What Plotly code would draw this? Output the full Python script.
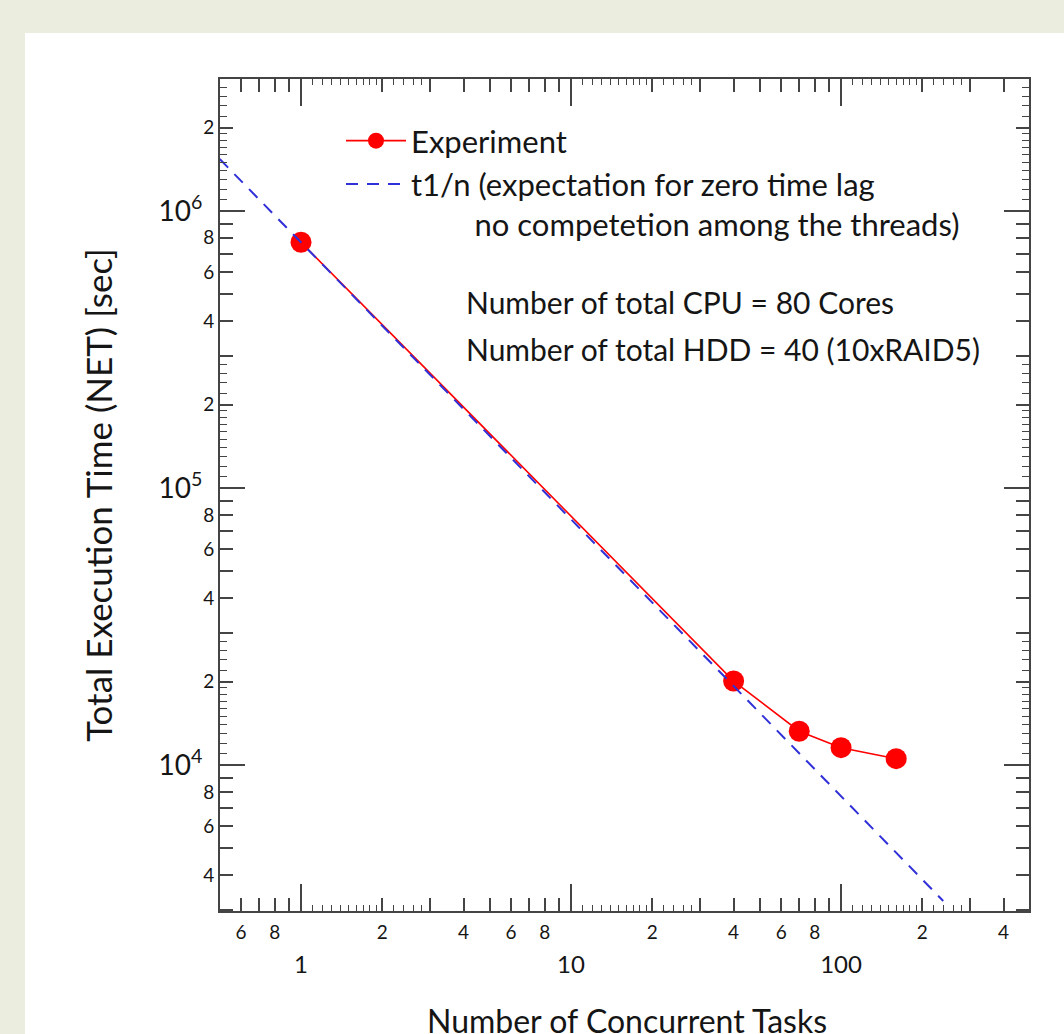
import plotly.graph_objects as go

# ---------------- data ----------------
tasks = [1, 40, 70, 100, 160]
exec_time = [7.71e5, 2.01e4, 1.324e4, 1.155e4, 1.054e4]

ideal_tasks = [0.5, 239]
ideal_time = [1.54e6, 3.23e3]

# tick definitions
x_decades = [0.1, 1, 10, 100]
x_major_vals = [1, 10, 100]
x_major_text = ["1", "10", "100"]
y_decades = [1e3, 1e4, 1e5, 1e6]
y_major_vals = [1e4, 1e5, 1e6]
y_major_text = ["10<sup>4</sup>", "10<sup>5</sup>", "10<sup>6</sup>"]
labeled_mult = [2, 4, 6, 8]
unlabeled_mult = [3, 5, 7, 9]
tiny_mult = [1.1, 1.2, 1.3, 1.4, 1.5, 1.6, 1.7, 1.8, 1.9, 2.2, 2.4, 2.6, 2.8]

info_lines = ["Number of total CPU = 80 Cores", "Number of total HDD = 40 (10xRAID5)"]

x_lo, x_hi = 0.501, 497.0
y_lo, y_hi = 2972.0, 2.996e6
x_range = [-0.3, 2.696]
y_range = [3.473, 6.4765]


def scaled(mults, decades, lo, hi):
    return [m * d for d in decades for m in mults if lo <= m * d <= hi]


def labels(mults, decades, lo, hi):
    return [str(m) for d in decades for m in mults if lo <= m * d <= hi]


x_lab_vals = scaled(labeled_mult, x_decades, x_lo, x_hi)
x_lab_text = labels(labeled_mult, x_decades, x_lo, x_hi)
y_lab_vals = scaled(labeled_mult, y_decades, y_lo, y_hi)
y_lab_text = labels(labeled_mult, y_decades, y_lo, y_hi)
x_mid_plain = scaled(unlabeled_mult, x_decades, x_lo, x_hi)
y_mid_plain = scaled(unlabeled_mult, y_decades, y_lo, y_hi)
x_tiny = scaled(tiny_mult, x_decades, x_lo, x_hi)
y_tiny = scaled(tiny_mult, y_decades, y_lo, y_hi)

FONT = "Lato"
TXT = "#151515"
AX = "#444444"

# plot area in pixels (for placing paper-referenced text)
L, R, T, B = 220, 1029, 79, 911
W, H = R - L, B - T


def px(x):
    return (x - L) / W


def py(y):
    return 1 - (y - T) / H


fig = go.Figure()

fig.add_trace(go.Scatter(
    x=tasks, y=exec_time, mode="lines+markers", name="Experiment",
    line=dict(color="#ff0000", width=1.6),
    marker=dict(color="#ff0000", size=21),
    xaxis="x", yaxis="y",
))

fig.add_trace(go.Scatter(
    x=ideal_tasks, y=ideal_time, mode="lines",
    name="t1/n (expectation for zero time lag<br>" + "\u00a0" * 8 + "no competetion among the threads)",
    line=dict(color="#3030d8", width=2, dash="12px,9px"),
    xaxis="x2", yaxis="y2",
))

common = dict(type="log", showgrid=False, zeroline=False, showline=True, automargin=False,
              linecolor=AX, linewidth=2, mirror="ticks", ticks="inside",
              tickcolor=AX, tickwidth=1.5, tickmode="array")

annotations = [dict(
    xref="paper", yref="paper", x=px(464), y=py(yc),
    xanchor="left", yanchor="middle", align="left", showarrow=False,
    text=line, font=dict(size=30, color=TXT, family=FONT),
) for line, yc in zip(info_lines, [302, 349])]

annotations.append(dict(
    xref="paper", yref="paper", x=px(627), y=py(999), xanchor="center", yanchor="top",
    showarrow=False, text="Number of Concurrent Tasks", font=dict(size=32, color=TXT, family=FONT),
))

fig.update_layout(
    width=1064, height=1034,
    paper_bgcolor="#EBEEDF", plot_bgcolor="white",
    margin=dict(l=L, r=1064 - R, t=T, b=1034 - B),
    font=dict(family=FONT, color=TXT),
    xaxis=dict(**common, range=x_range, tickvals=x_major_vals, ticktext=x_major_text,
               ticklen=27, tickfont=dict(size=24, color=TXT), ticklabelstandoff=31,
               minor=dict(tickmode="array", tickvals=x_tiny, ticks="inside", ticklen=6,
                          tickcolor=AX, tickwidth=1.2)),
    xaxis2=dict(**common, range=x_range, overlaying="x", side="bottom", anchor="y2",
                tickvals=x_lab_vals, ticktext=x_lab_text, ticklen=13,
                tickfont=dict(size=19, color=TXT), ticklabelstandoff=3,
                minor=dict(tickmode="array", tickvals=x_mid_plain, ticks="inside", ticklen=13,
                           tickcolor=AX, tickwidth=1.5)),
    yaxis=dict(**common, range=y_range, tickvals=y_major_vals, ticktext=y_major_text,
               ticklen=25, tickfont=dict(size=28, color=TXT), ticklabelstandoff=10,
               minor=dict(tickmode="array", tickvals=y_tiny, ticks="inside", ticklen=7,
                          tickcolor=AX, tickwidth=1.2),
               title=dict(text="Total Execution Time (NET) [sec]", font=dict(size=35, color=TXT),
                          standoff=35)),
    yaxis2=dict(**common, range=y_range, overlaying="y", side="left", anchor="x2",
                tickvals=y_lab_vals, ticktext=y_lab_text, ticklen=13,
                tickfont=dict(size=19, color=TXT), ticklabelstandoff=0,
                minor=dict(tickmode="array", tickvals=y_mid_plain, ticks="inside", ticklen=13,
                           tickcolor=AX, tickwidth=1.5)),
    legend=dict(x=px(341), y=py(114), xanchor="left", yanchor="top",
                bgcolor="rgba(0,0,0,0)", font=dict(size=31, color=TXT, family=FONT),
                valign="top", tracegroupgap=4, itemwidth=60),
    showlegend=True,
    annotations=annotations,
    shapes=[dict(type="rect", xref="paper", yref="paper", layer="below",
                 x0=px(25), x1=1.2, y0=-0.3, y1=py(33),
                 fillcolor="white", line=dict(width=0))],
)

fig.write_html("out.html", config={"displayModeBar": False},
               post_script="document.body.style.margin='0';document.body.style.overflow='hidden';")
